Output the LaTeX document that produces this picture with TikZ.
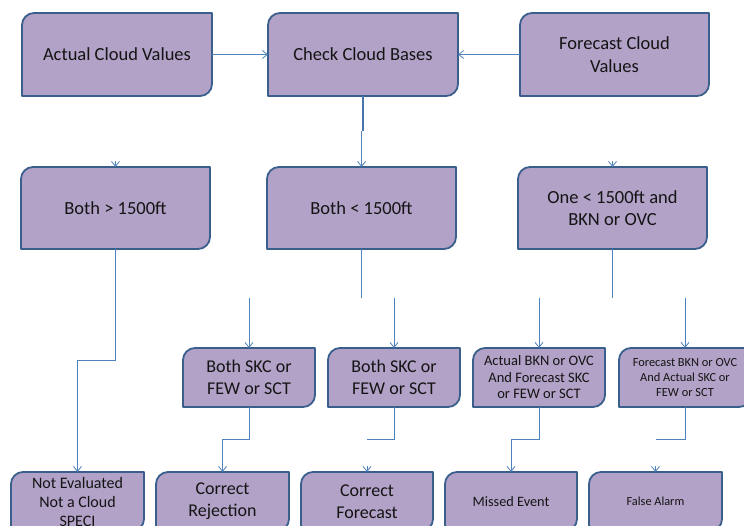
\documentclass[tikz,border=0pt]{standalone}
\usepackage{fontspec}
\setmainfont{Carlito}
\usetikzlibrary{arrows.meta,calc}

\definecolor{boxfill}{HTML}{B2A2C7}
\definecolor{boxedge}{HTML}{3A5F8C}
\definecolor{lineblue}{HTML}{4F81BD}
\definecolor{ink}{HTML}{141414}

\tikzset{
  boxshape/.style={fill=boxfill, draw=boxedge, line width=1.8pt, line join=round},
  boxtext/.style={inner sep=0pt, outer sep=0pt, align=center, text=ink},
  link/.style={draw=lineblue, line width=0.8pt},
  arrowlink/.style={link, -{Straight Barb[length=5pt,width=8pt]}},
  heavylink/.style={draw=lineblue!90!black, line width=1.6pt},
}

% #1 name, #2 left, #3 top, #4 right, #5 bottom, #6 font size, #7 line skip, #8 text
\newcommand\cbx[8]{%
  \path[boxshape] (#2,{#3+12}) arc[start angle=180,end angle=90,radius=12pt]
     -- (#4,#3) -- (#4,{#5-12}) arc[start angle=0,end angle=-90,radius=12pt]
     -- (#2,#5) -- cycle;
  \node[boxtext, minimum width={(#4-#2)*1pt}, minimum height={(#5-#3)*1pt},
        font=\fontsize{#6}{#7}\selectfont] (#1) at ({(#2+#4)/2},{(#3+#5)/2}) {#8};
}

\begin{document}
\begin{tikzpicture}[x=1pt,y=-1pt]
\useasboundingbox (0,0) rectangle (744,526);
\fill[white] (0,0) rectangle (744,526);

% top row
\cbx{acv}{22}{13}{212}{96}{18.5}{22.5}{Actual Cloud Values}
\cbx{ccb}{268}{13}{458}{96}{18.5}{22.5}{Check Cloud Bases}
\cbx{fcv}{520}{13}{709}{96}{18.5}{22.5}{Forecast Cloud\\Values}

% second row
\cbx{hi}{21}{167}{210}{249}{18.5}{22.5}{Both > 1500ft}
\cbx{lo}{267}{167}{456}{249}{18.5}{22.5}{Both < 1500ft}
\cbx{one}{518}{167}{707}{249}{18.5}{21.5}{One < 1500ft and\\BKN or OVC}

% third row
\cbx{skca}{183}{348}{315}{407}{18}{21.5}{Both SKC or\\FEW or SCT}
\cbx{skcb}{328}{348}{460}{407}{18}{21.5}{Both SKC or\\FEW or SCT}
\cbx{abkn}{473}{348}{605}{407}{14.5}{16.5}{Actual BKN or OVC\\And Forecast SKC\\or FEW or SCT}
\cbx{fbkn}{619}{348}{751}{407}{12.4}{15}{Forecast BKN or OVC\\And Actual SKC or\\FEW or SCT}

% outcome row
\cbx{ne}{11}{472}{144}{531}{16}{19}{Not Evaluated\\Not a Cloud\\SPECI}
\cbx{cr}{156}{472}{289}{531}{18}{22}{Correct\\Rejection}
\cbx{cf}{301}{472}{433}{531}{18}{22}{Correct\\Forecast}
\cbx{me}{445}{472}{577}{531}{14.3}{17}{Missed Event}
\cbx{fa}{589}{472}{722}{531}{12.3}{15}{False Alarm}

% free ends of the connectors
\coordinate (ccbmid) at (363,131);
\coordinate (ccbmid2) at (361.5,131);
\coordinate (loend) at (361.5,298);
\coordinate (oneend) at (612.5,298);
\coordinate (sa) at (249,298);
\coordinate (sb) at (394,298);
\coordinate (sc) at (539,298);
\coordinate (sd) at (685,298);
\coordinate (skcbend) at (367,439);
\coordinate (fbknend) at (655.5,439);

% top row into the check
\draw[arrowlink] (acv.east) -- (ccb.west);
\draw[arrowlink] (fcv.west) -- (ccb.east);
\draw[heavylink] (ccb.south) -- (ccbmid);
\draw[arrowlink] (ccbmid2) -- (lo.north);
\draw[arrowlink] ([yshift=6pt]hi.north) -- (hi.north);
\draw[arrowlink] ([yshift=6pt]one.north) -- (one.north);

% second row down
\draw[arrowlink] (hi.south) -- ++(0,111) -| (ne.north);
\draw[link] (lo.south) -- (loend);
\draw[link] (one.south) -- (oneend);
\draw[arrowlink] (sa) -- (skca.north);
\draw[arrowlink] (sb) -- (skcb.north);
\draw[arrowlink] (sc) -- (abkn.north);
\draw[arrowlink] (sd) -- (fbkn.north);

% third row down
\draw[arrowlink] (skca.south) -- ++(0,32) -| (cr.north);
\draw[link] (skcb.south) |- (skcbend);
\draw[arrowlink] ([yshift=6pt]cf.north) -- (cf.north);
\draw[arrowlink] (abkn.south) -- ++(0,32) -| (me.north);
\draw[link] (fbkn.south) |- (fbknend);
\draw[arrowlink] ([yshift=6pt]fa.north) -- (fa.north);
\end{tikzpicture}
\end{document}
